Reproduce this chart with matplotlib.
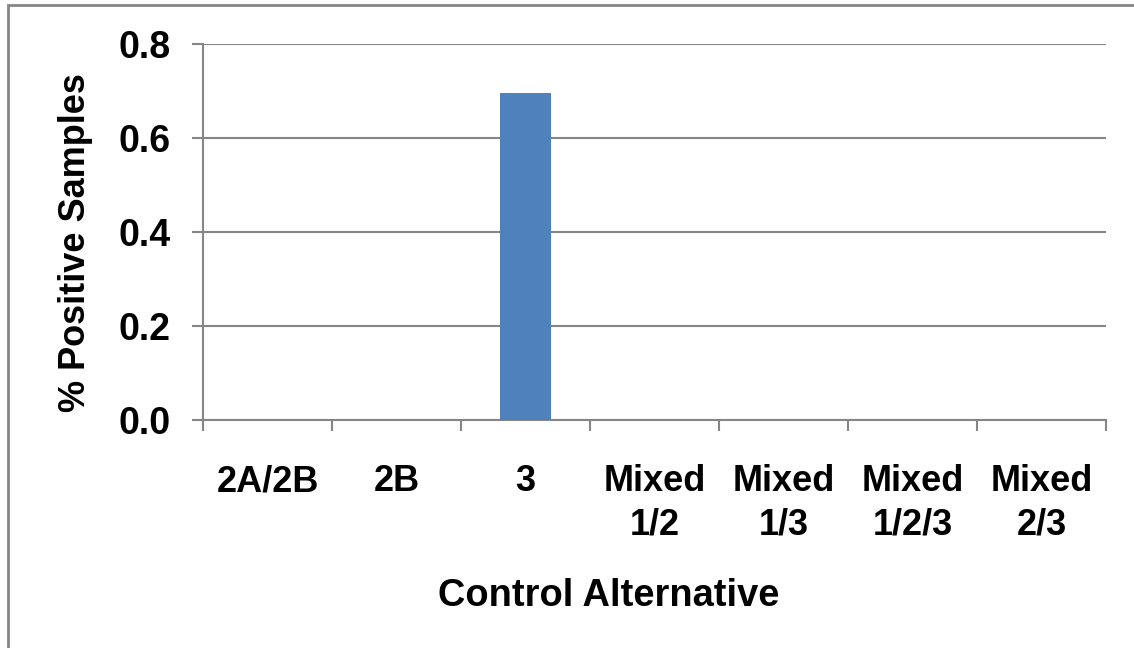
import matplotlib
matplotlib.use("Agg")
import matplotlib.pyplot as plt
from matplotlib.patches import Rectangle
import numpy as np

# datos
categorias = ["2A/2B", "2B", "3", "Mixed\n1/2", "Mixed\n1/3", "Mixed\n1/2/3", "Mixed\n2/3"]
valores = [0, 0, 0.695, 0, 0, 0, 0]
yticks = [0.0, 0.2, 0.4, 0.6, 0.8]

plt.rcParams['font.family'] = ['Liberation Sans', 'DejaVu Sans']
plt.rcParams['font.weight'] = 'bold'

gris = '#868686'
fig = plt.figure(figsize=(11.34, 6.48), dpi=100)
ax = fig.add_axes([203/1134, 1-420/648, (1106-203)/1134, (420-44)/648])

x = np.arange(len(categorias))
ax.bar(x, valores, width=0.4, color='#4F81BD', zorder=3)

ax.set_xlim(-0.5, len(categorias) - 0.5)
ax.set_ylim(0, 0.8)
ax.set_yticks(yticks)
ax.set_yticklabels([f"{v:.1f}" for v in yticks])
ax.set_xticks(x)
ax.set_xticklabels(categorias, linespacing=1.3)
ax.set_xticks(np.arange(len(categorias) + 1) - 0.5, minor=True)

ax.grid(axis='y', color=gris, linewidth=1.5, zorder=0)
for s in ['top', 'right']:
    ax.spines[s].set_visible(False)
for s in ['left', 'bottom']:
    ax.spines[s].set_color(gris)
    ax.spines[s].set_linewidth(1.5)

ax.tick_params(axis='y', length=8, width=1.5, color=gris, labelsize=27, pad=15.5)
ax.tick_params(axis='x', which='major', length=0, labelsize=26, pad=32)
ax.tick_params(axis='x', which='minor', length=8, width=1.5, color=gris)

ax.set_xlabel('Control Alternative', fontsize=27.4, fontweight='bold')
ax.xaxis.set_label_coords(0.449, -0.42)
ax.set_ylabel('% Positive Samples', fontsize=26, fontweight='bold')
ax.yaxis.set_label_coords(-0.122, 0.473)

# marco del gráfico
fig.patches.append(Rectangle((8/1134, -0.1), 1.2, 1 - 5/648 + 0.1,
                             transform=fig.transFigure, fill=False,
                             edgecolor=gris, linewidth=2))

fig.savefig('out.png', dpi=100)
